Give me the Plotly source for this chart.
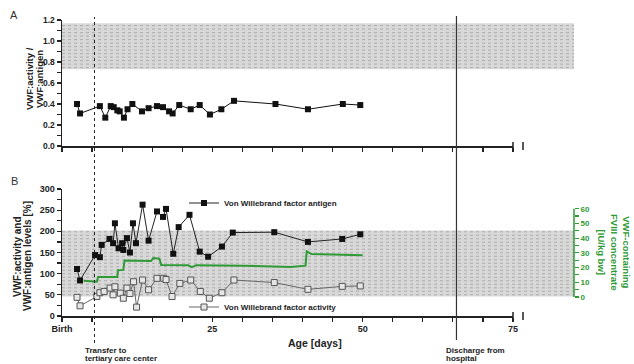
import plotly.graph_objects as go

# ---------------- data ----------------
# Panel A: VWF:activity / VWF:antigen ratio
ratio_days = [2.5, 3.0, 6.3, 7.2, 8.1, 8.6, 9.2, 9.6, 10.3, 10.9, 11.7, 13.3, 14.4,
              15.8, 16.8, 17.8, 18.4, 19.5, 21.4, 22.9, 24.6, 26.5, 28.6, 35.5,
              40.9, 46.7, 49.6]
ratio_vals = [0.40, 0.31, 0.38, 0.27, 0.38, 0.37, 0.34, 0.33, 0.27, 0.35, 0.40, 0.33,
              0.36, 0.38, 0.37, 0.33, 0.31, 0.39, 0.35, 0.39, 0.30, 0.35, 0.43, 0.40,
              0.35, 0.40, 0.39]

# Panel B: antigen (%)
antigen_days = [2.5, 3.0, 5.5, 6.3, 6.6, 7.9, 8.5, 8.8, 9.4, 10.0, 10.2, 10.8, 11.3,
                11.8, 12.3, 13.4, 14.4, 15.8, 16.8, 17.3, 18.5, 19.4, 21.2, 22.9,
                24.3, 26.6, 28.4, 35.3, 40.9, 46.6, 49.6]
antigen_vals = [111, 84, 144, 139, 168, 182, 172, 219, 160, 172, 156, 184, 150,
                219, 172, 263, 178, 247, 234, 253, 147, 210, 239, 152,
                140, 164, 197, 198, 175, 182, 193]

# Panel B: activity (%)
activity_days = [2.5, 3.0, 5.8, 6.3, 7.0, 8.0, 8.5, 8.8, 9.7, 10.2, 10.8, 11.3, 11.9,
                 12.4, 13.4, 14.4, 15.8, 16.9, 17.3, 18.3, 19.6, 21.4, 23.0, 24.5,
                 26.6, 28.6, 35.3, 40.9, 46.6, 49.6]
activity_vals = [44, 24, 46, 55, 58, 66, 50, 69, 54, 42, 66, 53, 81,
                 21, 85, 62, 89, 89, 86, 46, 77, 85, 58, 42,
                 55, 85, 79, 63, 70, 71]

# Panel B: VWF-containing FVIII concentrate (IU/kg bw)
conc_days = [3.6, 5.8, 6.0, 9.2, 9.3, 10.2, 10.4, 14.8, 15.2, 16.2, 16.5, 21.0, 21.6,
             22.3, 30.0, 35.0, 38.0, 40.5, 40.7, 41.5, 50.0]
conc_vals = [11.0, 10.3, 13.5, 13.6, 18.2, 18.4, 24.8, 24.5, 26.5, 26.0, 21.8, 21.5,
             20.3, 21.6, 21.2, 20.8, 20.4, 21.3, 31.0, 29.2, 28.4]

# reference bands
ratio_band = [0.73, 1.17]
level_band = [46, 202]

# event days
transfer_day = 5.4
discharge_day = 65.6

# ticks
seg1_ticks = list(range(0, 80, 5))
seg1_text_B = ["Birth" if t == 0 else (str(t) if t % 25 == 0 else "") for t in seg1_ticks]
seg2_ticks = [100, 125, 150, 175, 200]
seg2_text_B = ["100", "", "150", "", "200"]
ratio_ticks = [round(i * 0.1, 1) for i in range(13)]
ratio_text = [f"{t:.1f}" if round(t * 10) % 2 == 0 else "" for t in ratio_ticks]
level_ticks = list(range(0, 325, 25))
level_text = [str(t) if t % 50 == 0 else "" for t in level_ticks]
conc_ticks = list(range(0, 65, 5))
conc_text = [str(t) if t % 10 == 0 else "" for t in conc_ticks]

# ---------------- layout helpers ----------------
W, H = 634, 364
L, R, T, B = 62, 60, 20, 48
PW, PH = W - L - R, H - T - B


def px(x):
    return (x - L) / PW


def py(y):
    return (H - B - y) / PH


seg1_dom = [0, px(513)]
seg2_dom = [px(523), 1]
domA = [py(146), 1]
domB = [0, py(189)]

GREEN = "#2e9a35"
FONT = "Liberation Sans, Arial, sans-serif"
tickfontA = dict(family=FONT, size=8.5, color="#222", weight="bold")
tickfontB = dict(family=FONT, size=9, color="#222", weight="bold")

fig = go.Figure()

# Panel A
fig.add_trace(go.Scatter(x=ratio_days, y=ratio_vals, xaxis="x", yaxis="y",
                         mode="lines+markers", showlegend=False,
                         line=dict(color="#111", width=1),
                         marker=dict(symbol="square", size=6, color="#111")))

# Panel B
fig.add_trace(go.Scatter(x=conc_days, y=conc_vals, xaxis="x3", yaxis="y3",
                         mode="lines", showlegend=False,
                         line=dict(color=GREEN, width=2)))
fig.add_trace(go.Scatter(x=activity_days, y=activity_vals, xaxis="x3", yaxis="y2",
                         mode="lines+markers", name="Von Willebrand factor activity",
                         legend="legend2",
                         line=dict(color="#666", width=1),
                         marker=dict(symbol="square", size=6, color="#e6e6e6",
                                     line=dict(color="#555", width=1))))
fig.add_trace(go.Scatter(x=antigen_days, y=antigen_vals, xaxis="x3", yaxis="y2",
                         mode="lines+markers", name="Von Willebrand factor antigen",
                         legend="legend",
                         line=dict(color="#222", width=1),
                         marker=dict(symbol="square", size=6, color="#111")))

axis_common = dict(showline=True, linecolor="#222", linewidth=1.5, ticks="outside",
                   ticklen=4, tickwidth=1.2, tickcolor="#222", showgrid=False,
                   zeroline=False, automargin=False)

fig.update_layout(
    template="none",
    width=W, height=H, margin=dict(l=L, r=R, t=T, b=B, autoexpand=False),
    paper_bgcolor="white", plot_bgcolor="rgba(0,0,0,0)",
    font=dict(family=FONT),
    hovermode=False,
    xaxis=dict(domain=seg1_dom, range=[0, 75], anchor="y", tickvals=seg1_ticks,
               showticklabels=False, tickfont=tickfontA, **axis_common),
    xaxis2=dict(domain=seg2_dom, range=[75, 200], anchor="y", tickvals=seg2_ticks,
                showticklabels=False, tickfont=tickfontA, **axis_common),
    xaxis3=dict(domain=seg1_dom, range=[0, 75], anchor="y2", tickvals=seg1_ticks,
                ticktext=seg1_text_B, tickfont=tickfontB, **axis_common),
    xaxis4=dict(domain=seg2_dom, range=[75, 200], anchor="y2", tickvals=seg2_ticks,
                ticktext=seg2_text_B, tickfont=tickfontB, **axis_common),
    yaxis=dict(domain=domA, range=[0, 1.2], anchor="x", tickvals=ratio_ticks,
               ticktext=ratio_text, tickfont=tickfontA, **axis_common),
    yaxis2=dict(domain=domB, range=[0, 300], anchor="x3", tickvals=level_ticks,
                ticktext=level_text, tickfont=tickfontB, **axis_common),
    yaxis3=dict(overlaying="y2", side="right", anchor="free", position=1,
                range=[-12.95, 73.4], tickvals=conc_ticks, ticktext=conc_text,
                showline=False, ticks="outside", ticklen=4, tickwidth=1.2,
                tickcolor=GREEN, showgrid=False, zeroline=False, automargin=False,
                tickfont=dict(family=FONT, size=8, color=GREEN, weight="bold")),
    legend=dict(x=px(184), y=py(203), xanchor="left", yanchor="middle",
                bgcolor="rgba(0,0,0,0)", itemwidth=30,
                font=dict(family=FONT, size=8, color="#222", weight="bold")),
    legend2=dict(x=px(184), y=py(307), xanchor="left", yanchor="middle",
                 bgcolor="rgba(0,0,0,0)", itemwidth=30,
                 font=dict(family=FONT, size=8, color="#222", weight="bold")),
)

shapes = []
# reference bands with dotted texture
for (yref, band, span_px) in [("y", ratio_band, 126 / 1.2), ("y2", level_band, 127 / 300)]:
    shapes.append(dict(type="rect", xref="paper", yref=yref, x0=0, x1=1,
                       y0=band[0], y1=band[1], fillcolor="#d8d8d8",
                       line=dict(width=0), layer="below"))
    step = 3.5 / span_px
    v = band[0] + step / 2
    while v < band[1]:
        shapes.append(dict(type="line", xref="paper", yref=yref, x0=0, x1=1,
                           y0=v, y1=v, line=dict(color="#acacac", width=1, dash="dot"),
                           layer="below"))
        v += step

# event lines
shapes.append(dict(type="line", xref="x", yref="paper", x0=transfer_day, x1=transfer_day,
                   y0=py(343), y1=py(17), line=dict(color="#222", width=1, dash="dot")))
shapes.append(dict(type="line", xref="x", yref="paper", x0=discharge_day, x1=discharge_day,
                   y0=py(340), y1=py(16), line=dict(color="#333", width=1.2)))
# right axis line (0..60 only)
shapes.append(dict(type="line", xref="paper", yref="y3", x0=1, x1=1, y0=0, y1=60,
                   line=dict(color=GREEN, width=1.5)))
# axis break marks
for ay in [py(146), py(316)]:
    for bx in [seg1_dom[1], seg2_dom[0]]:
        shapes.append(dict(type="line", xref="paper", yref="paper", x0=bx, x1=bx,
                           y0=ay - 4 / PH, y1=ay + 4 / PH,
                           line=dict(color="#222", width=1.5)))
fig.update_layout(shapes=shapes)

title_font = dict(family=FONT, size=9.5, color="#222", weight="bold")
titleB_font = dict(family=FONT, size=10, color="#222", weight="bold")
small_font = dict(family=FONT, size=8, color="#222", weight="bold")
annotations = [
    dict(text="A", x=px(14), y=py(15), font=dict(family=FONT, size=11, color="#333")),
    dict(text="B", x=px(14), y=py(181), font=dict(family=FONT, size=11, color="#333")),
    # panel A y title (two lines, tight spacing)
    dict(text="VWF:activity /", x=px(29), y=py(79), textangle=-90, font=title_font),
    dict(text="VWF:antigen", x=px(39), y=py(79), textangle=-90, font=title_font),
    # panel B y title
    dict(text="VWF:activity and", x=px(17), y=py(257), textangle=-90, font=titleB_font),
    dict(text="VWF:antigen levels [%]", x=px(27), y=py(256), textangle=-90,
         font=titleB_font),
    dict(text="VWF-containing<br>FVIII concentrate<br>[IU/kg bw]", x=px(614), y=py(252),
         textangle=90, font=dict(family=FONT, size=9.5, color=GREEN, weight="bold")),
    dict(text="Age [days]", x=px(315), y=py(343),
         font=dict(family=FONT, size=10.5, color="#222", weight="bold")),
    dict(text="Transfer to", x=px(83), y=py(350), xanchor="left", font=small_font),
    dict(text="tertiary care center", x=px(83), y=py(358.5), xanchor="left",
         font=small_font),
    dict(text="Discharge from", x=px(444), y=py(350), xanchor="left", font=small_font),
    dict(text="hospital", x=px(444), y=py(358.5), xanchor="left", font=small_font),
]
for a in annotations:
    a.setdefault("xref", "paper")
    a.setdefault("yref", "paper")
    a.setdefault("showarrow", False)
    a.setdefault("xanchor", "center")
    a.setdefault("yanchor", "middle")
fig.update_layout(annotations=annotations)

fig.write_html("out.html",
               config={"displayModeBar": False, "staticPlot": True},
               post_script="document.body.style.margin='0px';"
                           "document.body.style.overflow='hidden';")
